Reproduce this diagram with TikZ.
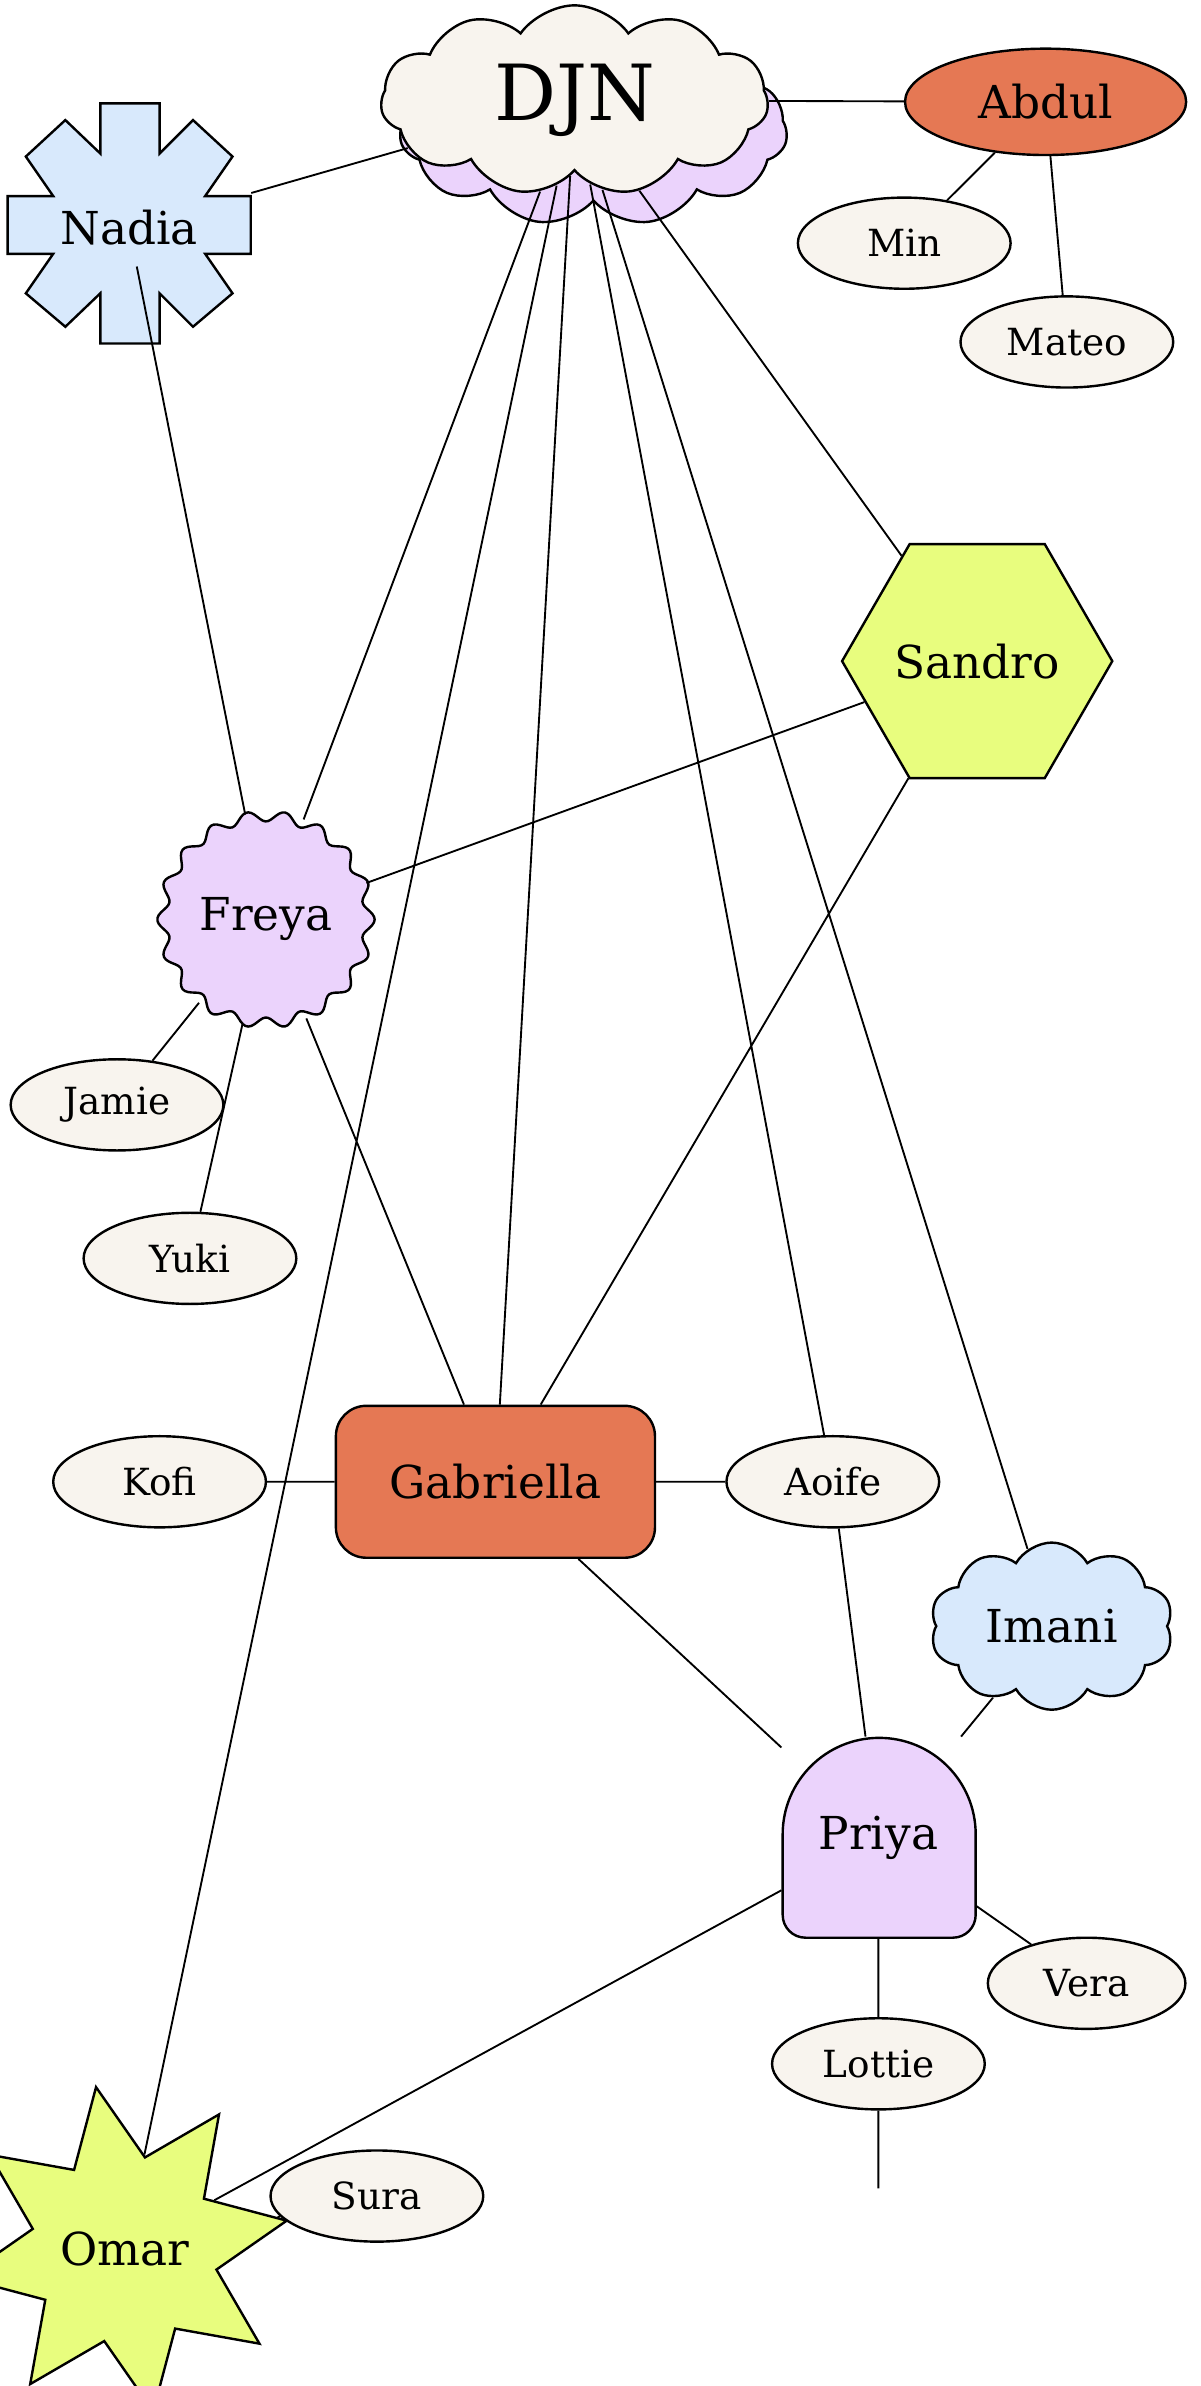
\documentclass[tikz,border=0pt]{standalone}
\usepackage{fontspec}
\setmainfont{DejaVu Serif}
\usetikzlibrary{shapes.geometric,shapes.symbols,shadows}

\definecolor{cream}{HTML}{F8F4EE}
\definecolor{coral}{HTML}{E57854}
\definecolor{lilac}{HTML}{EBD3FC}
\definecolor{sky}{HTML}{D8E9FC}
\definecolor{lime}{HTML}{E8FD7E}

\tikzset{
    person/.style={draw, line width=0.9pt, font=\fontsize{17}{20}\selectfont},
    leaf/.style={person, ellipse, fill=cream, minimum width=2.8cm, minimum height=1.2cm,
        inner sep=0pt, font=\fontsize{14}{17}\selectfont},
    link/.style={line width=0.7pt},
}

\begin{document}
\begin{tikzpicture}[x=0.02cm,y=0.02cm]
\useasboundingbox (0,0) rectangle (790,-1570);

% hub and its neighbours
\node[person, cloud, cloud puffs=11, cloud puff arc=110, aspect=2, fill=cream,
    minimum width=5.1cm, minimum height=2.5cm, inner sep=0pt,
    copy shadow={shadow xshift=0.25cm, shadow yshift=-0.4cm, fill=lilac, draw},
    font=\fontsize{29}{34}\selectfont] (djn) at (378,-66) {DJN};
\node[person, ellipse, fill=coral, minimum width=3.7cm, minimum height=1.4cm] (abdul) at (688,-67) {Abdul};
\node[leaf] (min) at (595,-160) {Min};
\node[leaf] (mateo) at (702,-225) {Mateo};

% Nadia
\draw[person, fill=sky, line join=miter] (66,-68) -- (105,-68) -- (105,-101) -- (127,-79) -- (153,-103)
    -- (135,-129) -- (165,-129) -- (165,-167) -- (135,-167) -- (153,-193) -- (127,-215)
    -- (105,-193) -- (105,-226) -- (66,-226) -- (66,-193) -- (43,-215) -- (17,-193)
    -- (35,-167) -- (5,-167) -- (5,-129) -- (35,-129) -- (17,-103) -- (43,-79) -- (66,-101) -- cycle;
\node[font=\fontsize{17}{20}\selectfont, minimum width=3.2cm, minimum height=1cm] (nadia) at (85,-150) {Nadia};

\node[person, regular polygon, regular polygon sides=6, fill=lime, minimum size=3.42cm,
    inner sep=0pt] (sandro) at (643,-435) {Sandro};

% Freya
\draw[person, fill=lilac] plot[domain=0:360, samples=240, smooth cycle]
    ({175+(68+3.5*cos(18*\x))*cos(\x)}, {-605+(68+3.5*cos(18*\x))*sin(\x)});
\node[circle, minimum size=2.8cm, font=\fontsize{17}{20}\selectfont] (freya) at (175,-605) {Freya};
\node[leaf] (jamie) at (77,-727) {Jamie};
\node[leaf] (yuki) at (125,-828) {Yuki};

\node[person, rectangle, rounded corners=0.4cm, fill=coral, minimum width=4.2cm,
    minimum height=2cm] (gabriella) at (326,-975) {Gabriella};
\node[leaf] (kofi) at (105,-975) {Kofi};
\node[leaf] (aoife) at (548,-975) {Aoife};

\node[person, cloud, cloud puffs=10, cloud puff arc=120, aspect=1.5, fill=sky,
    minimum width=3.2cm, minimum height=2.2cm, inner sep=0pt] (imani) at (692,-1070) {Imani};

% Priya
\draw[person, fill=lilac] (515,-1207) arc[start angle=180, end angle=0, radius=63.5]
    [rounded corners=0.3cm] -- (642,-1275) -- (515,-1275) [sharp corners] -- cycle;
\node[minimum width=2.54cm, minimum height=2.64cm, font=\fontsize{17}{20}\selectfont]
    (priya) at (578,-1209) {Priya};
\node[leaf, minimum width=2.6cm] (vera) at (715,-1305) {Vera};
\node[leaf] (lottie) at (578,-1358) {Lottie};
\coordinate (tail) at (578,-1440);

\node[person, star, star points=8, star point ratio=1.75, fill=lime, minimum size=3.5cm,
    inner sep=0pt, rotate=10] (omar) at (82,-1480) {\rotatebox{-10}{Omar}};
\node[leaf] (sura) at (248,-1445) {Sura};

\draw[link] (djn) -- (abdul) (abdul) -- (min) (abdul) -- (mateo)
    (nadia) -- (djn) (nadia) -- (freya)
    (djn) -- (freya) (djn) -- (omar) (djn) -- (gabriella) (djn) -- (aoife)
    (djn) -- (imani) (djn) -- (sandro)
    (sandro) -- (freya) (sandro) -- (gabriella)
    (freya) -- (jamie) (freya) -- (yuki) (freya) -- (gabriella)
    (gabriella) -- (kofi) (gabriella) -- (aoife) (gabriella) -- (priya)
    (aoife) -- (priya) (imani) -- (priya) (priya) -- (omar)
    (priya) -- (vera) (priya) -- (lottie) (lottie) -- (tail)
    (omar) -- (sura);
\end{tikzpicture}
\end{document}
